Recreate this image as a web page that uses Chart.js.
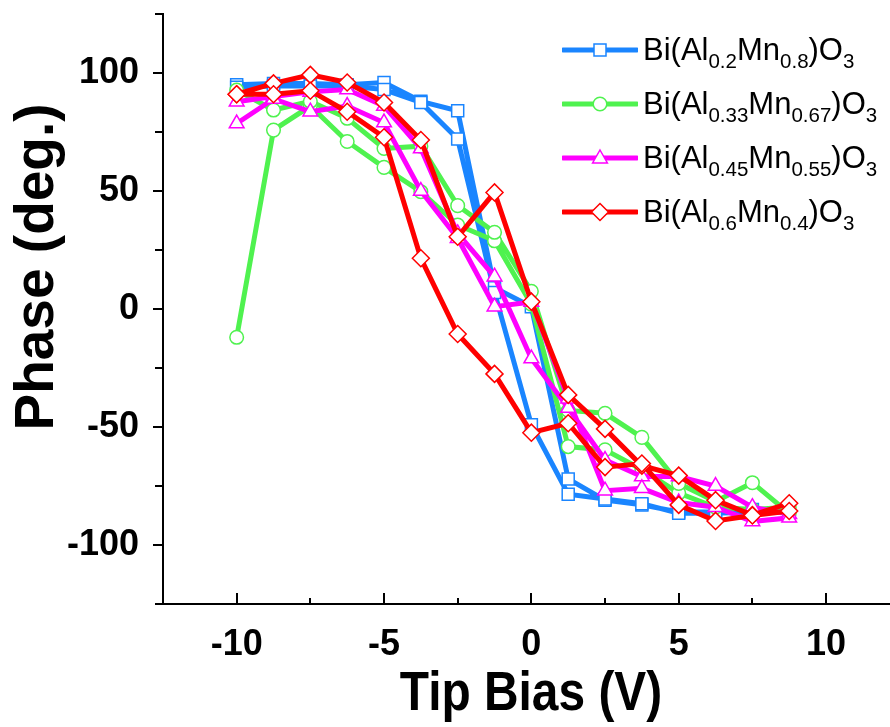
<!DOCTYPE html>
<html>
<head>
<meta charset="utf-8">
<script src="https://cdn.jsdelivr.net/npm/chart.js@4.4.3/dist/chart.umd.min.js"></script>
<style>
  html, body { margin: 0; padding: 0; background: #fff; overflow: hidden; }
  #wrap { position: relative; width: 890px; height: 727px; }
  #phase-chart { position: absolute; left: 0; top: 0; }
  .legend-row { position: absolute; left: 562px; height: 30px; white-space: nowrap;
    font: 31px "Liberation Sans", Arial, sans-serif; line-height: 30px; color: #000; }
  .legend-row svg { position: absolute; left: 0; top: 5px; }
  .legend-row span { position: absolute; left: 81px; top: 0; }
  .legend-row sub { font-size: 20.5px; vertical-align: -8px; line-height: 0; }
</style>
</head>
<body>
<div id="wrap">
  <canvas id="phase-chart" width="890" height="727"></canvas>
  <div id="legend"></div>
</div>
<script>
// tip bias sweep: -10 V up to 8.75 V, then back down to -10 V
const tipBias = [-10, -8.75, -7.5, -6.25, -5, -3.75, -2.5, -1.25, 0, 1.25, 2.5, 3.75, 5, 6.25, 7.5, 8.75,
                 8.75, 7.5, 6.25, 5, 3.75, 2.5, 1.25, 0, -1.25, -2.5, -3.75, -5, -6.25, -7.5, -8.75, -10];

// phase (deg.) for each composition, same order as tipBias
const phaseAl02 = [95, 95.5, 95.5, 95, 96, 88, 84, 9, 1, -72, -81, -83, -86, -86, -85, -85,
                   -86, -86, -86.5, -86.5, -82.5, -80.5, -78.5, -49, 7, 72, 87.5, 93, 94.5, 94.5, 94.5, 94];
const phaseAl033 = [-12, 75.8, 86, 71, 60, 49.7, 35.6, 28.9, 2, -58.3, -59.7, -68, -78, -84, -85, -84,
                    -86.6, -73.6, -81.6, -73.9, -54.4, -44.2, -43, 7.5, 32.5, 43.8, 69, 68, 80.8, 88, 84.3, 92.8];
const phaseAl045 = [87.8, 90, 92, 93, 86, 68, 32, 13.7, -21, -42, -64, -71, -71, -75, -84, -87,
                    -88.5, -90, -84, -82, -76, -77, -38, 3, 1, 30, 50, 79, 86, 83.6, 89, 78.6];
const phaseAl06 = [91, 95.6, 99.2, 96, 87.5, 71.6, 30.6, 49.4, 3.1, -36.4, -50.8, -66.4, -70.6, -81, -87.3, -82.3,
                   -85.6, -87.5, -89.8, -83, -65.5, -67, -48.4, -52.4, -27.5, -10.6, 21.5, 72.8, 83.6, 92.5, 91, 91];

// legend names, split into [text, subscript] pieces
const seriesNames = [
  [['Bi(Al', ''], ['0.2', 'sub'], ['Mn', ''], ['0.8', 'sub'], [')O', ''], ['3', 'sub']],
  [['Bi(Al', ''], ['0.33', 'sub'], ['Mn', ''], ['0.67', 'sub'], [')O', ''], ['3', 'sub']],
  [['Bi(Al', ''], ['0.45', 'sub'], ['Mn', ''], ['0.55', 'sub'], [')O', ''], ['3', 'sub']],
  [['Bi(Al', ''], ['0.6', 'sub'], ['Mn', ''], ['0.4', 'sub'], [')O', ''], ['3', 'sub']],
];
const seriesPhase = [phaseAl02, phaseAl033, phaseAl045, phaseAl06];
const seriesColors = ['#1a85ff', '#4ff24f', '#ff00ff', '#ff0000'];
const seriesMarkers = ['rect', 'circle', 'triangle', 'rectRot'];
const markerRadius = [8.5, 6.8, 8.5, 8.5];

// axis tick positions (labels only on every other one)
const xTickValues = [-10, -7.5, -5, -2.5, 0, 2.5, 5, 7.5, 10];
const yTickValues = [-125, -100, -75, -50, -25, 0, 25, 50, 75, 100, 125];

const xTitle = 'Tip Bias (V)';
const yTitle = 'Phase (deg.)';
const FONT = '"Liberation Sans", Arial, Helvetica, sans-serif';

function plainName(parts) {
  return parts.map(p => p[0]).join('');
}

// ticks drawn by hand (x ticks point into the plot, minor ones shorter), plus axis titles
const axisDecor = {
  id: 'axisDecor',
  afterDraw(chart) {
    const { ctx, chartArea, scales: { x, y } } = chart;
    ctx.save();
    ctx.strokeStyle = '#000';
    ctx.lineWidth = 2;
    ctx.beginPath();
    for (const t of x.ticks) {
      const px = Math.round(x.getPixelForValue(t.value));
      const len = t.value % 5 === 0 ? 11 : 6;
      ctx.moveTo(px, chartArea.bottom);
      ctx.lineTo(px, chartArea.bottom - len);
    }
    for (const t of y.ticks) {
      const py = Math.round(y.getPixelForValue(t.value));
      const len = t.value % 50 === 0 ? 10 : 8;
      ctx.moveTo(chartArea.left, py);
      ctx.lineTo(chartArea.left - len, py);
    }
    ctx.stroke();

    ctx.fillStyle = '#000';
    ctx.textAlign = 'center';
    ctx.textBaseline = 'middle';

    // x title is a little condensed in the original
    ctx.save();
    ctx.translate(531, 695);
    ctx.scale(0.87, 1);
    ctx.font = 'bold 55px ' + FONT;
    ctx.fillText(xTitle, 0, 0);
    ctx.restore();

    ctx.translate(38, 267);
    ctx.rotate(-Math.PI / 2);
    ctx.font = 'bold 55px ' + FONT;
    ctx.fillText(yTitle, 0, 0);
    ctx.restore();
  }
};

const datasets = seriesPhase.map((phase, i) => ({
  label: plainName(seriesNames[i]),
  data: phase.map((v, j) => ({ x: tipBias[j], y: v })),
  showLine: true,
  borderColor: seriesColors[i],
  borderWidth: 5,
  tension: 0,
  pointStyle: seriesMarkers[i],
  pointRadius: markerRadius[i],
  pointBorderWidth: 1.5,
  pointBorderColor: seriesColors[i],
  pointBackgroundColor: '#fff',
  order: 4 - i,
}));

new Chart(document.getElementById('phase-chart'), {
  type: 'scatter',
  data: { datasets },
  plugins: [axisDecor],
  options: {
    responsive: false,
    animation: false,
    devicePixelRatio: 1,
    layout: { autoPadding: false, padding: { top: 14, right: 0, left: 0, bottom: 0 } },
    plugins: { legend: { display: false }, tooltip: { enabled: false } },
    scales: {
      x: {
        type: 'linear',
        min: -12.5,
        max: 12.17,
        afterBuildTicks: (scale) => { scale.ticks = xTickValues.map(v => ({ value: v })); },
        afterFit: (scale) => {
          scale.height = 123;
          scale.paddingLeft = 0;
          scale.paddingRight = 0;
        },
        grid: { display: false },
        border: { display: true, color: '#000', width: 2 },
        ticks: {
          autoSkip: false,
          maxRotation: 0,
          padding: 11,
          color: '#000',
          font: { family: FONT, size: 36, weight: 'bold' },
          callback: (v) => (v % 5 === 0 ? String(v) : ''),
        },
        title: { display: false, text: xTitle },
      },
      y: {
        type: 'linear',
        min: -125,
        max: 125,
        afterBuildTicks: (scale) => { scale.ticks = yTickValues.map(v => ({ value: v })); },
        afterFit: (scale) => {
          scale.width = 163;
          scale.paddingTop = 0;
          scale.paddingBottom = 0;
        },
        grid: { display: false },
        border: { display: true, color: '#000', width: 2 },
        ticks: {
          autoSkip: false,
          padding: 16,
          color: '#000',
          font: { family: FONT, size: 36, weight: 'bold' },
          callback: (v) => (v % 50 === 0 ? String(v) : ''),
        },
        title: { display: false, text: yTitle },
      },
    },
  },
});

// legend with subscripts
const legend = document.getElementById('legend');
seriesNames.forEach((parts, i) => {
  const row = document.createElement('div');
  row.className = 'legend-row';
  row.style.top = (50 + 54 * i - 15) + 'px';
  const c = seriesColors[i];
  let marker = '';
  if (seriesMarkers[i] === 'rect') marker = `<rect x="32" y="4" width="12" height="12" fill="#fff" stroke="${c}" stroke-width="1.5"/>`;
  if (seriesMarkers[i] === 'circle') marker = `<circle cx="38" cy="10" r="6.8" fill="#fff" stroke="${c}" stroke-width="1.5"/>`;
  if (seriesMarkers[i] === 'triangle') marker = `<polygon points="38,2 45.4,15 30.6,15" fill="#fff" stroke="${c}" stroke-width="1.5"/>`;
  if (seriesMarkers[i] === 'rectRot') marker = `<polygon points="38,1.5 46.5,10 38,18.5 29.5,10" fill="#fff" stroke="${c}" stroke-width="1.5"/>`;
  row.innerHTML = `<svg width="76" height="20"><line x1="1" y1="10" x2="75" y2="10" stroke="${c}" stroke-width="5" stroke-linecap="round"/>${marker}</svg>` +
    '<span>' + parts.map(p => (p[1] ? `<sub>${p[0]}</sub>` : p[0])).join('') + '</span>';
  legend.appendChild(row);
});
</script>
</body>
</html>
